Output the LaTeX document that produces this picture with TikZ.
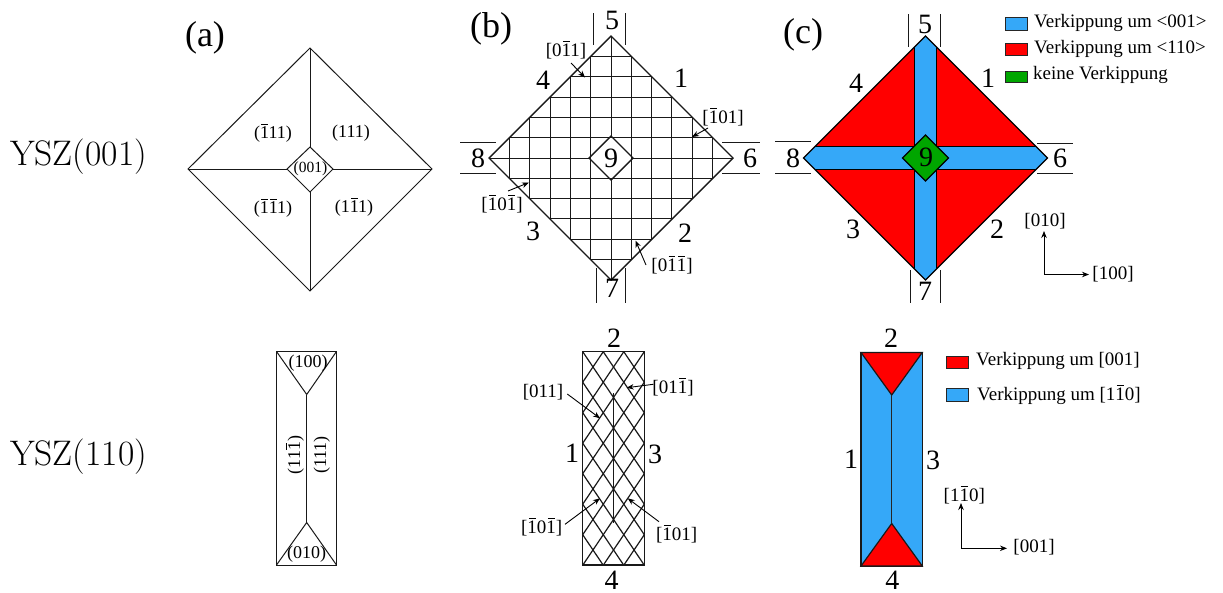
\documentclass[tikz,border=0pt]{standalone}
\usepackage{fontspec}
\newfontfamily\tm{Liberation Serif}
\usetikzlibrary{arrows.meta}
\definecolor{tiltblue}{HTML}{35A8F8}
\definecolor{tiltred}{HTML}{FF0000}
\definecolor{tiltgreen}{HTML}{00A600}
\newcommand\ob[1]{\leavevmode\rlap{\raisebox{.74em}{\kern.07em\rule{.36em}{.055em}}}#1}
\newcommand\fs[1]{\fontsize{#1}{#1}\selectfont}
\tikzset{
  x=1pt,y=-1pt,
  edge/.style={line width=1pt,draw=black!90},
  tx/.style={inner sep=0pt,font=\tm},
  panel/.style={tx,font=\tm\fs{36}},
  num/.style={tx,font=\tm\fs{28}},
  miller/.style={tx,font=\tm\fs{18}},
  dirlabel/.style={tx,font=\tm\fs{19}},
  leg/.style={tx,anchor=west,font=\tm\fs{19}},
  rowlabel/.style={inner sep=0pt,font=\fs{35.5}},
  ptr/.style={line width=.9pt,-{Stealth[length=7pt,width=5.5pt]}},
  swatch/.style={draw=black!85,line width=1pt},
}
\begin{document}
\begin{tikzpicture}
\useasboundingbox (0,0) rectangle (1223,592);
% row labels
\node[rowlabel] (r1) at (78.5,157) {YSZ(001)};
\node[rowlabel] (r2) at (78.5,457) {YSZ(110)};
\node[panel] (pa) at (205,38) {(a)};
\node[panel] (pb) at (491,29) {(b)};
\node[panel] (pc) at (803,35) {(c)};

% ---------- (a) top
\draw[edge] (310,48) -- (432,169) -- (310,291) -- (188,169) -- cycle;
\draw[edge] (310,147) -- (333,169) -- (310,192) -- (287,169) -- cycle;
\draw[edge] (310,48) -- (310,147) (310,192) -- (310,291)
            (188,169) -- (287,169) (333,169) -- (432,169);
\node[miller] (a1) at (273,133) {(\ob{1}11)};
\node[miller] (a2) at (351,133) {(111)};
\node[miller] (a3) at (273,208) {(\ob{1}\ob{1}1)};
\node[miller] (a4) at (354,207) {(1\ob{1}1)};
\node[tx,font=\tm\fs{15.5}] (a5) at (310.5,169) {(001)};

% ---------- (b) top
\begin{scope}[shift={(611,158)}]
  \foreach \k in {-5,-4,-3,-2,-1,1,2,3,4,5}{
    \pgfmathsetmacro\hl{122-abs(\k)*20.33}
    \draw[edge] (\k*20.33,-\hl) -- (\k*20.33,\hl);
    \draw[edge] (-\hl,\k*20.33) -- (\hl,\k*20.33);
  }
  \draw[edge] (0,-122) -- (0,-22) (0,22) -- (0,122) (-122,0) -- (-22,0) (22,0) -- (122,0);
  \draw[edge,line width=1.4pt] (0,-122) -- (122,0) -- (0,122) -- (-122,0) -- cycle;
  \draw[edge,line width=1.4pt] (0,-22) -- (22,0) -- (0,22) -- (-22,0) -- cycle;
\end{scope}
\draw[edge] (593.5,13) -- (593.5,45) (625,13) -- (625,45)
            (596,268) -- (596,303) (625,268) -- (625,303)
            (460,142) -- (496,142) (460,173) -- (496,173)
            (722,142) -- (760,142) (722,173) -- (760,173);
\node[num] (b5) at (612,20) {5};
\node[num] (b4) at (543,80) {4};
\node[num] (b1) at (681,78) {1};
\node[num] (b8) at (478,158) {8};
\node[num] (b6) at (750,158) {6};
\node[num] (b3) at (533,231) {3};
\node[num] (b2) at (685,233) {2};
\node[num] (b7) at (612,288) {7};
\node[num] (b9) at (611,158) {9};
\node[dirlabel] (bl1) at (566,50) {[0\ob{1}1]};
\node[dirlabel] (bl2) at (723,117) {[\ob{1}01]};
\node[dirlabel] (bl3) at (502,204) {[\ob{1}0\ob{1}]};
\node[dirlabel] (bl4) at (672,265) {[0\ob{1}\ob{1}]};
\coordinate (bs1) at (571,63); \coordinate (be1) at (585,77.5);
\coordinate (bs2) at (708,128); \coordinate (be2) at (692,137);
\coordinate (bs3) at (508,191); \coordinate (be3) at (529,182.5);
\coordinate (bs4) at (646,265); \coordinate (be4) at (635.5,240.5);
\foreach \i in {1,2,3,4} \draw[ptr] (bs\i) -- (be\i);

% ---------- (c) top
\begin{scope}[shift={(925.5,158)}]
  \path[fill=tiltred] (0,-122) -- (122,0) -- (0,122) -- (-122,0) -- cycle;
  \begin{scope}
    \clip (0,-122) -- (122,0) -- (0,122) -- (-122,0) -- cycle;
    \draw[line width=1.2pt] (-11,-130) -- (-11,130) (11,-130) -- (11,130)
        (-130,-11.3) -- (130,-11.3) (-130,11.3) -- (130,11.3);
    \fill[tiltblue] (-130,-10.7) rectangle (130,10.7);
    \fill[tiltblue] (-10.4,-130) rectangle (10.4,130);
  \end{scope}
  \draw[line width=1.2pt] (0,-122) -- (122,0) -- (0,122) -- (-122,0) -- cycle;
  \draw[line width=1.2pt,fill=tiltgreen] (0,-23) -- (23,0) -- (0,23) -- (-23,0) -- cycle;
\end{scope}
\draw[edge] (908.5,14) -- (908.5,47) (940,14) -- (940,47)
            (910,270) -- (910,303) (940,270) -- (940,303)
            (775,141.5) -- (811,141.5) (775,173.5) -- (811,173.5)
            (1037,143) -- (1072.5,143) (1037,173.5) -- (1072.5,173.5);
\node[num] (c5) at (925,24) {5};
\node[num] (c4) at (856,83) {4};
\node[num] (c1) at (988,78) {1};
\node[num] (c8) at (793,158) {8};
\node[num] (c6) at (1060,158) {6};
\node[num] (c3) at (853,229) {3};
\node[num] (c2) at (997,229) {2};
\node[num] (c7) at (925,291) {7};
\node[num] (c9) at (926,157) {9};
\draw[swatch,fill=tiltblue] (1005.5,17) rectangle (1027,30);
\draw[swatch,fill=tiltred] (1005.5,43.5) rectangle (1027,55);
\draw[swatch,fill=tiltgreen] (1005.5,71) rectangle (1027,82.5);
\node[leg] (l1) at (1034,23) {Verkippung um <001>};
\node[leg] (l2) at (1034,49) {Verkippung um <110>};
\node[leg] (l3) at (1033,75) {keine Verkippung};
\node[dirlabel] (ax1) at (1045,221) {[010]};
\node[dirlabel] (ax2) at (1113,274) {[100]};
\coordinate (ax0) at (1044,274.5);
\draw[ptr] (ax0) -- (1044,231) coordinate (ax1e);
\draw[ptr] (ax0) -- (1089,274.5) coordinate (ax2e);

% ---------- (a) bottom
\draw[edge] (276.5,351.5) rectangle (336.5,565);
\draw[edge] (276.5,351.5) -- (306.7,394.5) -- (336.5,351.5);
\draw[edge] (276.5,565) -- (306.7,522.5) -- (336.5,565);
\draw[edge] (306.7,394.5) -- (306.7,522.5);
\node[miller] (d1) at (308,363) {(100)};
\node[miller] (d2) at (306.7,554) {(010)};
\node[miller,rotate=90] (d3) at (295,455) {(11\ob{1})};
\node[miller,rotate=90] (d4) at (321.7,455) {(111)};

% ---------- (b) bottom
\begin{scope}
  \clip (582.7,351.7) rectangle (644.3,565);
  \foreach \c in {-14,-12,...,6}{
    \draw[edge,line width=1.2pt] (582.7+\c*10.27,351.7) -- ++(20*10.27,20*15.25);
    }
  \foreach \c in {0,2,...,20}{
    \draw[edge,line width=1.2pt] (582.7+\c*10.27,351.7) -- ++(-20*10.27,20*15.25);
  }
\end{scope}
\draw[edge,line width=1.2pt] (582.7,351.7) rectangle (644.3,565);
\draw[edge,line width=1.2pt] (613.7,393) -- (613.7,522.5);
\node[num] (e2) at (614,338) {2};
\node[num] (e1) at (572,453) {1};
\node[num] (e3) at (655,454) {3};
\node[num] (e4) at (611.7,580) {4};
\node[dirlabel] (el1) at (543,392) {[011]};
\node[dirlabel] (el2) at (673,387) {[01\ob{1}]};
\node[dirlabel] (el3) at (541.7,527) {[\ob{1}0\ob{1}]};
\node[dirlabel] (el4) at (676.7,534) {[\ob{1}01]};
\coordinate (es1) at (567.3,394); \coordinate (ee1) at (600,418.3);
\coordinate (es2) at (653.3,384.3); \coordinate (ee2) at (626.7,387.7);
\coordinate (es3) at (565,524.3); \coordinate (ee3) at (600,498.3);
\coordinate (es4) at (659,521.7); \coordinate (ee4) at (627.7,498.3);
\foreach \i in {1,2,3,4} \draw[ptr] (es\i) -- (ee\i);

% ---------- (c) bottom
\draw[edge,line width=1.2pt,fill=tiltblue] (861,352.5) rectangle (922.3,566);
\draw[edge,line width=1.2pt,fill=tiltred] (861,352.5) -- (891.7,395) -- (922.3,352.5) -- cycle;
\draw[edge,line width=1.2pt,fill=tiltred] (861,566) -- (891.7,523.5) -- (922.3,566) -- cycle;
\draw[line width=1.5pt,draw=black!85] (891.7,395) -- (891.7,523.5);
\node[num] (f2) at (891,338) {2};
\node[num] (f1) at (851,459) {1};
\node[num] (f3) at (933,460) {3};
\node[num] (f4) at (892.3,580) {4};
\draw[swatch,fill=tiltred] (946,356) rectangle (968,368);
\draw[swatch,fill=tiltblue] (946,388) rectangle (968,401);
\node[leg] (m1) at (976,360.5) {Verkippung um [001]};
\node[leg] (m2) at (977,395) {Verkippung um [1\ob{1}0]};
\node[dirlabel] (ax3) at (964.3,495) {[1\ob{1}0]};
\node[dirlabel] (ax4) at (1034,547) {[001]};
\coordinate (ax5) at (961,548.3);
\draw[ptr] (ax5) -- (961,503) coordinate (ax3e);
\draw[ptr] (ax5) -- (1007,548.3) coordinate (ax4e);
\end{tikzpicture}
\end{document}
